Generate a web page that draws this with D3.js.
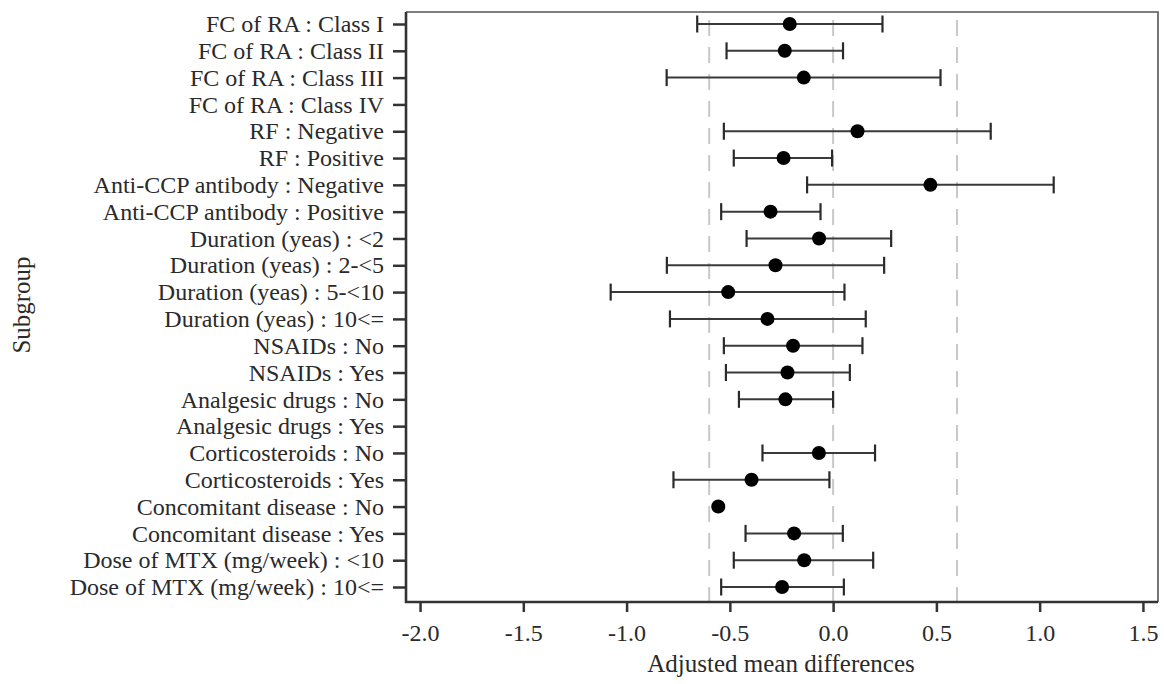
<!DOCTYPE html>
<html>
<head>
<meta charset="utf-8">
<script src="https://cdn.jsdelivr.net/npm/d3@7"></script>
<style>
  html, body { margin: 0; padding: 0; background: #fff; }
  svg { display: block; }
  text { font-family: "Liberation Serif", "Times New Roman", serif; fill: #2a2a2a; }
</style>
</head>
<body>
<svg id="chart" width="1164" height="684"></svg>
<script>
const subgroups = [
  "FC of RA : Class I",
  "FC of RA : Class II",
  "FC of RA : Class III",
  "FC of RA : Class IV",
  "RF : Negative",
  "RF : Positive",
  "Anti-CCP antibody : Negative",
  "Anti-CCP antibody : Positive",
  "Duration (yeas) : <2",
  "Duration (yeas) : 2-<5",
  "Duration (yeas) : 5-<10",
  "Duration (yeas) : 10<=",
  "NSAIDs : No",
  "NSAIDs : Yes",
  "Analgesic drugs : No",
  "Analgesic drugs : Yes",
  "Corticosteroids : No",
  "Corticosteroids : Yes",
  "Concomitant disease : No",
  "Concomitant disease : Yes",
  "Dose of MTX (mg/week) : <10",
  "Dose of MTX (mg/week) : 10<="
];
const estimates = [-0.21, -0.234, -0.142, null, 0.118, -0.240, 0.471, -0.303, -0.068, -0.279, -0.508, -0.318, -0.194, -0.221, -0.231, null, -0.069, -0.395, -0.556, -0.189, -0.140, -0.247];
const lowerCI   = [-0.658, -0.516, -0.806, null, -0.529, -0.481, -0.126, -0.542, -0.419, -0.805, -1.077, -0.790, -0.529, -0.519, -0.456, null, -0.342, -0.773, null, -0.424, -0.481, -0.542];
const upperCI   = [0.239, 0.048, 0.52, null, 0.763, -0.005, 1.068, -0.061, 0.281, 0.247, 0.055, 0.158, 0.142, 0.081, 0.0, null, 0.203, -0.018, null, 0.047, 0.194, 0.052];
const xTicks = [-2.0, -1.5, -1.0, -0.5, 0.0, 0.5, 1.0, 1.5];
const refLines = [-0.6, 0.0, 0.6];

const svg = d3.select("#chart");
const pLeft = 406, pRight = 1158, pTop = 12, pBottom = 602;

const x = d3.scaleLinear().domain([-2.068, 1.573]).range([pLeft, pRight]);
const y = d3.scalePoint().domain(subgroups).range([24, 587]);

// reference dashed lines
svg.append("g").selectAll("line").data(refLines).join("line")
  .attr("x1", d => x(d)).attr("x2", d => x(d))
  .attr("y1", pTop + 8).attr("y2", pBottom)
  .attr("stroke", "#c8c8c8").attr("stroke-width", 2)
  .attr("stroke-dasharray", "16,11");

// frame top/right
svg.append("path")
  .attr("d", `M${pLeft},${pTop}H${pRight}V${pBottom}`)
  .attr("fill", "none").attr("stroke", "#555").attr("stroke-width", 1.6);

const rows = subgroups.map((s, i) => ({s, est: estimates[i], lo: lowerCI[i], hi: upperCI[i]}));

const g = svg.append("g");
const ci = rows.filter(r => r.lo !== null && r.hi !== null);
g.selectAll("line.ci").data(ci).join("line").attr("class", "ci")
  .attr("x1", d => x(d.lo)).attr("x2", d => x(d.hi))
  .attr("y1", d => y(d.s)).attr("y2", d => y(d.s))
  .attr("stroke", "#3a3a3a").attr("stroke-width", 2);
g.selectAll("line.capl").data(ci).join("line").attr("class", "capl")
  .attr("x1", d => x(d.lo)).attr("x2", d => x(d.lo))
  .attr("y1", d => y(d.s) - 8.5).attr("y2", d => y(d.s) + 8.5)
  .attr("stroke", "#2a2a2a").attr("stroke-width", 2.2);
g.selectAll("line.capu").data(ci).join("line").attr("class", "capu")
  .attr("x1", d => x(d.hi)).attr("x2", d => x(d.hi))
  .attr("y1", d => y(d.s) - 8.5).attr("y2", d => y(d.s) + 8.5)
  .attr("stroke", "#2a2a2a").attr("stroke-width", 2.2);
g.selectAll("circle").data(rows.filter(r => r.est !== null)).join("circle")
  .attr("cx", d => x(d.est)).attr("cy", d => y(d.s)).attr("r", 7)
  .attr("fill", "#000");

// axes
const yAxis = svg.append("g").attr("transform", `translate(${pLeft},0)`)
  .call(d3.axisLeft(y).tickSize(13).tickPadding(9).tickSizeOuter(0));
yAxis.select(".domain").remove();
yAxis.selectAll(".tick line").attr("stroke", "#333").attr("stroke-width", 2.5);
yAxis.selectAll(".tick text").style("font-size", "24px").style("font-family", "Liberation Serif").attr("fill", "#2a2a2a");

const xAxis = svg.append("g").attr("transform", `translate(0,${pBottom})`)
  .call(d3.axisBottom(x).tickValues(xTicks).tickFormat(d => d.toFixed(1)).tickSize(10).tickPadding(12));
xAxis.select(".domain").remove();
xAxis.selectAll(".tick line").attr("stroke", "#333").attr("stroke-width", 2.5);
xAxis.selectAll(".tick text").style("font-size", "24px").style("font-family", "Liberation Serif").attr("fill", "#2a2a2a");

// left and bottom axis lines
svg.append("path")
  .attr("d", `M${pLeft},${pTop}V${pBottom}H${pRight}`)
  .attr("fill", "none").attr("stroke", "#333").attr("stroke-width", 2.6);

svg.append("text")
  .attr("x", 781).attr("y", 672).attr("text-anchor", "middle")
  .style("font-size", "25px").text("Adjusted mean differences");
svg.append("text")
  .attr("transform", "translate(30,305) rotate(-90)").attr("text-anchor", "middle")
  .style("font-size", "25px").text("Subgroup");
</script>
</body>
</html>
